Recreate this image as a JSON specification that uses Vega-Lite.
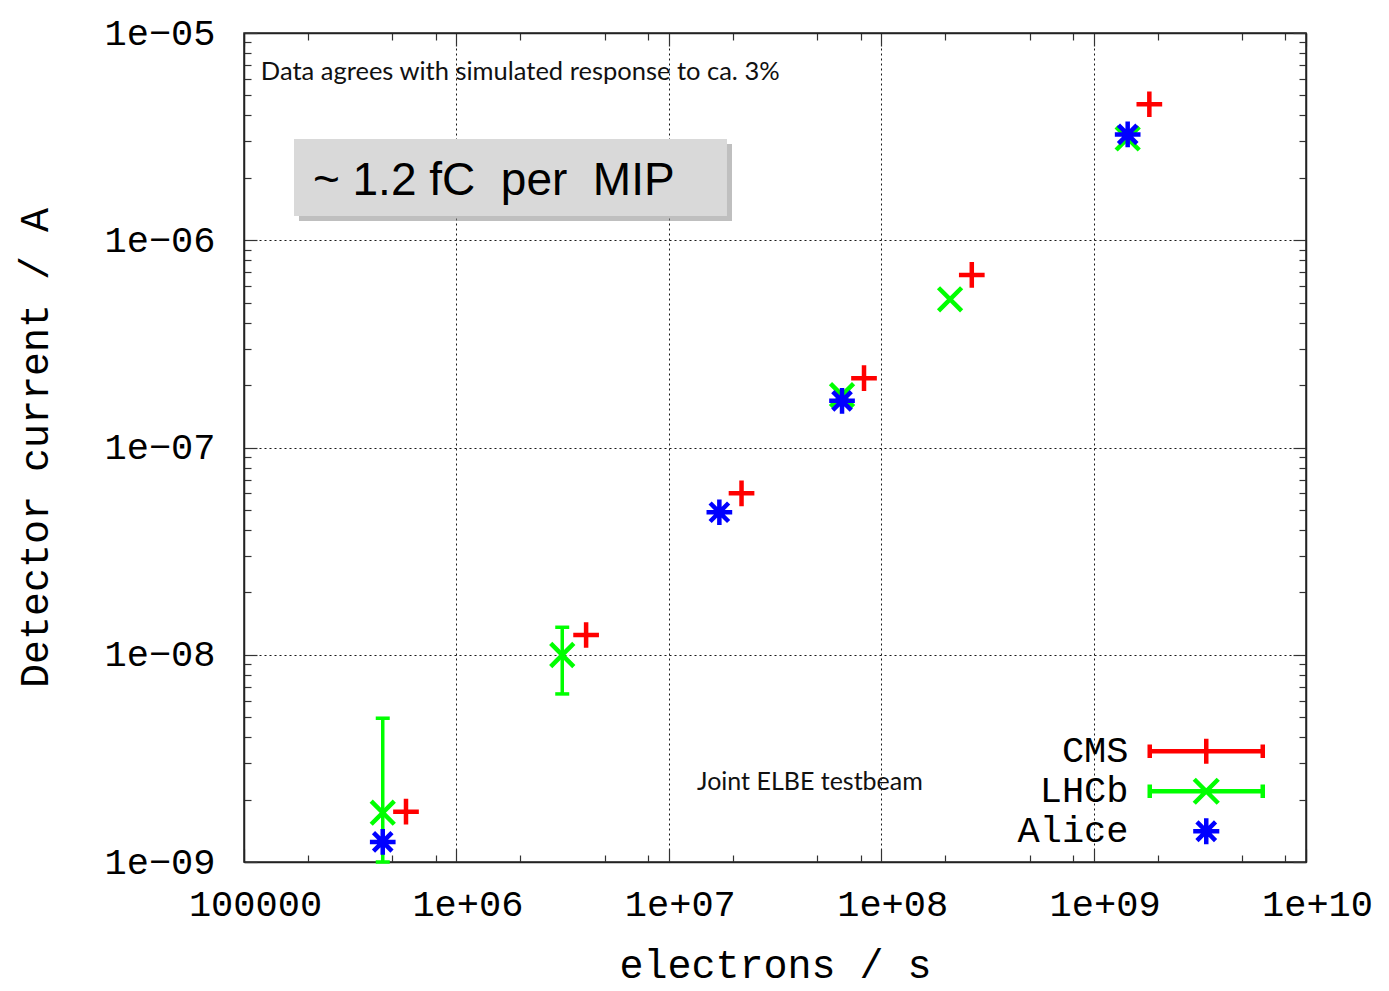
{
  "$schema": "https://vega.github.io/schema/vega-lite/v6.json",
  "width": 1062,
  "height": 829,
  "autosize": {"type": "none"},
  "padding": {"left": 244, "top": 33, "right": 83, "bottom": 129},
  "background": "white",
  "datasets": {
    "pts": [
      {"series": "CMS", "x": 579000, "y": 1.75e-9},
      {"series": "CMS", "x": 4080000, "y": 1.245e-8},
      {"series": "CMS", "x": 22000000, "y": 6.01e-8},
      {"series": "CMS", "x": 83000000, "y": 2.16e-7},
      {"series": "CMS", "x": 267000000, "y": 6.8e-7},
      {"series": "CMS", "x": 1830000000, "y": 4.53e-6},
      {"series": "LHCb", "x": 450000, "y": 1.73e-9, "lo": 1e-9, "hi": 4.94e-9},
      {"series": "LHCb", "x": 3150000, "y": 9.97e-9, "lo": 6.47e-9, "hi": 1.357e-8},
      {"series": "LHCb", "x": 65400000, "y": 1.79e-7},
      {"series": "LHCb", "x": 211000000, "y": 5.19e-7},
      {"series": "LHCb", "x": 1447000000, "y": 3.1e-6},
      {"series": "Alice", "x": 450000, "y": 1.25e-9},
      {"series": "Alice", "x": 17300000, "y": 4.87e-8},
      {"series": "Alice", "x": 65400000, "y": 1.68e-7},
      {"series": "Alice", "x": 1447000000, "y": 3.24e-6}
    ],
    "shadow": [{"x1": 181500, "x2": 19840000, "y1": 2.913e-6, "y2": 1.238e-6}],
    "box": [{"x1": 172000, "x2": 18790000, "y1": 3.08e-6, "y2": 1.309e-6, "tx": 211000, "ty": 1.654e-6, "label": "~ 1.2 fC  per  MIP"}],
    "note1": [{"x": 120000, "y": 5.93e-6, "label": "Data agrees with simulated response to ca. 3%"}],
    "note2": [{"x": 13580000, "y": 2.226e-9, "label": "Joint ELBE testbeam"}]
  },
  "config": {
    "view": {"stroke": "#222", "strokeWidth": 1.5}
  },
  "resolve": {
    "axis": {"x": "independent", "y": "independent"},
    "scale": {"color": "independent", "shape": "independent"}
  },
  "layer": [
    {
      "data": {"name": "shadow"},
      "mark": {"type": "rect", "fill": "#8a8a8a", "opacity": 0.55},
      "encoding": {
        "x": {"field": "x1", "type": "quantitative", "scale": {"type": "log", "domain": [100000, 10000000000], "nice": false}, "axis": null},
        "x2": {"field": "x2"},
        "y": {"field": "y1", "type": "quantitative", "scale": {"type": "log", "domain": [1e-9, 1e-5], "nice": false}, "axis": null},
        "y2": {"field": "y2"}
      }
    },
    {
      "data": {"name": "box"},
      "mark": {"type": "rect", "fill": "#d9d9d9"},
      "encoding": {
        "x": {"field": "x1", "type": "quantitative", "axis": null},
        "x2": {"field": "x2"},
        "y": {"field": "y1", "type": "quantitative", "axis": null},
        "y2": {"field": "y2"}
      }
    },
    {
      "data": {"name": "box"},
      "transform": [{"calculate": "replace(datum.label, / /g, '\u00a0')", "as": "shown"}],
      "mark": {"type": "text", "font": "Liberation Sans", "fontSize": 46, "align": "left", "baseline": "alphabetic", "color": "#000"},
      "encoding": {
        "x": {"field": "tx", "type": "quantitative", "axis": null},
        "y": {"field": "ty", "type": "quantitative", "axis": null},
        "text": {"field": "shown"}
      }
    },
    {
      "data": {"name": "note1"},
      "mark": {"type": "text", "font": "Lato", "fontSize": 25.5, "align": "left", "baseline": "alphabetic", "color": "#111"},
      "encoding": {
        "x": {"field": "x", "type": "quantitative", "axis": null},
        "y": {"field": "y", "type": "quantitative", "axis": null},
        "text": {"field": "label"}
      }
    },
    {
      "data": {"name": "note2"},
      "mark": {"type": "text", "font": "Lato", "fontSize": 25, "align": "left", "baseline": "alphabetic", "color": "#111"},
      "encoding": {
        "x": {"field": "x", "type": "quantitative", "axis": null},
        "y": {"field": "y", "type": "quantitative", "axis": null},
        "text": {"field": "label"}
      }
    },
    {
      "data": {"name": "pts"},
      "transform": [{"filter": "isValid(datum.hi)"}],
      "mark": {"type": "rule", "color": "#00ff00", "strokeWidth": 3.5},
      "encoding": {
        "x": {"field": "x", "type": "quantitative", "axis": {
          "orient": "top",
          "values": [100000, 200000, 500000, 800000, 1000000, 2000000, 5000000, 8000000, 10000000, 20000000, 50000000, 80000000, 100000000, 200000000, 500000000, 800000000, 1000000000, 2000000000, 5000000000, 8000000000, 10000000000],
          "labels": false, "grid": false, "title": null,
          "tickSize": {"condition": {"test": "abs(log(datum.value)/LN10 - round(log(datum.value)/LN10)) < 0.001", "value": -13}, "value": -7},
          "tickColor": "#333", "tickWidth": 1.2, "domainColor": "#222", "domainWidth": 1.5
        }},
        "y": {"field": "lo", "type": "quantitative", "axis": {
          "orient": "right",
          "values": [1e-9, 2e-9, 3e-9, 4e-9, 5e-9, 6e-9, 7e-9, 8e-9, 9e-9, 1e-8, 2e-8, 3e-8, 4e-8, 5e-8, 6e-8, 7e-8, 8e-8, 9e-8, 1e-7, 2e-7, 3e-7, 4e-7, 5e-7, 6e-7, 7e-7, 8e-7, 9e-7, 1e-6, 2e-6, 3e-6, 4e-6, 5e-6, 6e-6, 7e-6, 8e-6, 9e-6, 1e-5],
          "labels": false, "grid": false, "title": null,
          "tickSize": {"condition": {"test": "abs(log(datum.value)/LN10 - round(log(datum.value)/LN10)) < 0.001", "value": -13}, "value": -7},
          "tickColor": "#333", "tickWidth": 1.2, "domainColor": "#222", "domainWidth": 1.5
        }},
        "y2": {"field": "hi"}
      }
    },
    {
      "data": {"name": "pts"},
      "transform": [{"filter": "isValid(datum.hi)"}],
      "mark": {"type": "point", "shape": "M-1,0L1,0", "filled": false, "size": 196, "strokeWidth": 3.5, "color": "#00ff00", "opacity": 1},
      "encoding": {
        "x": {"field": "x", "type": "quantitative", "axis": null},
        "y": {"field": "hi", "type": "quantitative", "axis": null}
      }
    },
    {
      "data": {"name": "pts"},
      "transform": [{"filter": "isValid(datum.lo)"}],
      "mark": {"type": "point", "shape": "M-1,0L1,0", "filled": false, "size": 196, "strokeWidth": 3.5, "color": "#00ff00", "opacity": 1},
      "encoding": {
        "x": {"field": "x", "type": "quantitative", "axis": null},
        "y": {"field": "lo", "type": "quantitative", "axis": null}
      }
    },
    {
      "data": {"name": "pts"},
      "mark": {"type": "point", "filled": false, "size": 900, "strokeWidth": 4.5, "opacity": 0},
      "encoding": {
        "x": {"field": "x", "type": "quantitative", "axis": null},
        "y": {"field": "y", "type": "quantitative", "axis": null},
        "color": {"field": "series", "type": "nominal", "sort": null,
          "scale": {"domain": ["CMS", "LHCb", "Alice"], "range": ["#ff0000", "#00ff00", "#0000ff"]},
          "legend": {
            "title": null, "orient": "none", "legendX": 943.75, "legendY": 699.75, "padding": 0,
            "labelFont": "Liberation Mono", "labelFontSize": 37, "labelColor": "#000", "labelAlign": "right", "labelOffset": -96.25, "labelLimit": 0,
            "symbolSize": 900, "symbolStrokeWidth": 4.5, "symbolOpacity": 1, "symbolFillColor": "transparent", "rowPadding": -4
          }
        },
        "shape": {"field": "series", "type": "nominal", "sort": null,
          "scale": {"domain": ["CMS", "LHCb", "Alice"], "range": [
            "M-3.767,0L3.767,0M-3.767,-0.45L-3.767,0.45M3.767,-0.45L3.767,0.45M0,-0.83L0,0.83",
            "M-3.767,0L3.767,0M-3.767,-0.45L-3.767,0.45M3.767,-0.45L3.767,0.45M-0.8,-0.8L0.8,0.8M-0.8,0.8L0.8,-0.8",
            "M-0.87,0L0.87,0M0,-0.87L0,0.87M-0.62,-0.62L0.62,0.62M-0.62,0.62L0.62,-0.62"
          ]},
          "legend": {
            "title": null, "orient": "none", "legendX": 943.75, "legendY": 699.75, "padding": 0,
            "labelFont": "Liberation Mono", "labelFontSize": 37, "labelColor": "#000", "labelAlign": "right", "labelOffset": -96.25, "labelLimit": 0,
            "symbolSize": 900, "symbolStrokeWidth": 4.5, "symbolOpacity": 1, "symbolFillColor": "transparent", "rowPadding": -4
          }
        }
      }
    },
    {
      "data": {"name": "pts"},
      "mark": {"type": "point", "filled": false, "size": 660, "strokeWidth": 4.5, "opacity": 1},
      "encoding": {
        "x": {"field": "x", "type": "quantitative", "axis": {
          "orient": "bottom",
          "values": [100000, 200000, 500000, 800000, 1000000, 2000000, 5000000, 8000000, 10000000, 20000000, 50000000, 80000000, 100000000, 200000000, 500000000, 800000000, 1000000000, 2000000000, 5000000000, 8000000000, 10000000000],
          "labelExpr": "abs(log(datum.value)/LN10 - round(log(datum.value)/LN10)) < 0.001 ? (round(log(datum.value)/LN10) == 5 ? '100000' : '1e+' + (round(log(datum.value)/LN10) < 10 ? '0' : '') + round(log(datum.value)/LN10)) : ''",
          "labelFont": "Liberation Mono", "labelFontSize": 37, "labelColor": "#000",
          "labelPadding": 37, "labelOffset": 11, "labelFlush": false, "labelOverlap": false, "labelBaseline": "top",
          "tickSize": {"condition": {"test": "abs(log(datum.value)/LN10 - round(log(datum.value)/LN10)) < 0.001", "value": -13}, "value": -7},
          "tickColor": "#333", "tickWidth": 1.2,
          "grid": true, "gridColor": "#000", "gridDash": [2, 3], "gridWidth": 1,
          "gridOpacity": {"condition": {"test": "abs(log(datum.value)/LN10 - round(log(datum.value)/LN10)) < 0.001", "value": 0.9}, "value": 0},
          "domainColor": "#222", "domainWidth": 1.5,
          "title": "electrons / s", "titleFont": "Liberation Mono", "titleFontSize": 40, "titleFontWeight": "normal", "titleColor": "#000",
          "titleX": 531, "titleY": 103, "titleBaseline": "middle", "titleAlign": "center"
        }},
        "y": {"field": "y", "type": "quantitative", "axis": {
          "orient": "left",
          "values": [1e-9, 2e-9, 3e-9, 4e-9, 5e-9, 6e-9, 7e-9, 8e-9, 9e-9, 1e-8, 2e-8, 3e-8, 4e-8, 5e-8, 6e-8, 7e-8, 8e-8, 9e-8, 1e-7, 2e-7, 3e-7, 4e-7, 5e-7, 6e-7, 7e-7, 8e-7, 9e-7, 1e-6, 2e-6, 3e-6, 4e-6, 5e-6, 6e-6, 7e-6, 8e-6, 9e-6, 1e-5],
          "labelExpr": "abs(log(datum.value)/LN10 - round(log(datum.value)/LN10)) < 0.001 ? '1e−0' + round(-log(datum.value)/LN10) : ''",
          "labelFont": "Liberation Mono", "labelFontSize": 37, "labelColor": "#000",
          "labelPadding": 42, "labelFlush": false, "labelOverlap": false, "labelBaseline": "middle", "labelAlign": "right",
          "tickSize": {"condition": {"test": "abs(log(datum.value)/LN10 - round(log(datum.value)/LN10)) < 0.001", "value": -13}, "value": -7},
          "tickColor": "#333", "tickWidth": 1.2,
          "grid": true, "gridColor": "#000", "gridDash": [2, 3], "gridWidth": 1,
          "gridOpacity": {"condition": {"test": "abs(log(datum.value)/LN10 - round(log(datum.value)/LN10)) < 0.001", "value": 0.9}, "value": 0},
          "domainColor": "#222", "domainWidth": 1.5,
          "title": "Detector current / A", "titleFont": "Liberation Mono", "titleFontSize": 40, "titleFontWeight": "normal", "titleColor": "#000",
          "titleX": -209, "titleY": 414.5, "titleAngle": -90, "titleBaseline": "middle", "titleAlign": "center"
        }},
        "color": {"field": "series", "type": "nominal", "sort": null,
          "scale": {"domain": ["CMS", "LHCb", "Alice"], "range": ["#ff0000", "#00ff00", "#0000ff"]},
          "legend": null
        },
        "shape": {"field": "series", "type": "nominal", "sort": null,
          "scale": {"domain": ["CMS", "LHCb", "Alice"], "range": ["M-1,0L1,0M0,-1L0,1", "M-0.9,-0.9L0.9,0.9M-0.9,0.9L0.9,-0.9", "M-1,0L1,0M0,-1L0,1M-0.72,-0.72L0.72,0.72M-0.72,0.72L0.72,-0.72"]},
          "legend": null
        }
      }
    }
  ]
}
